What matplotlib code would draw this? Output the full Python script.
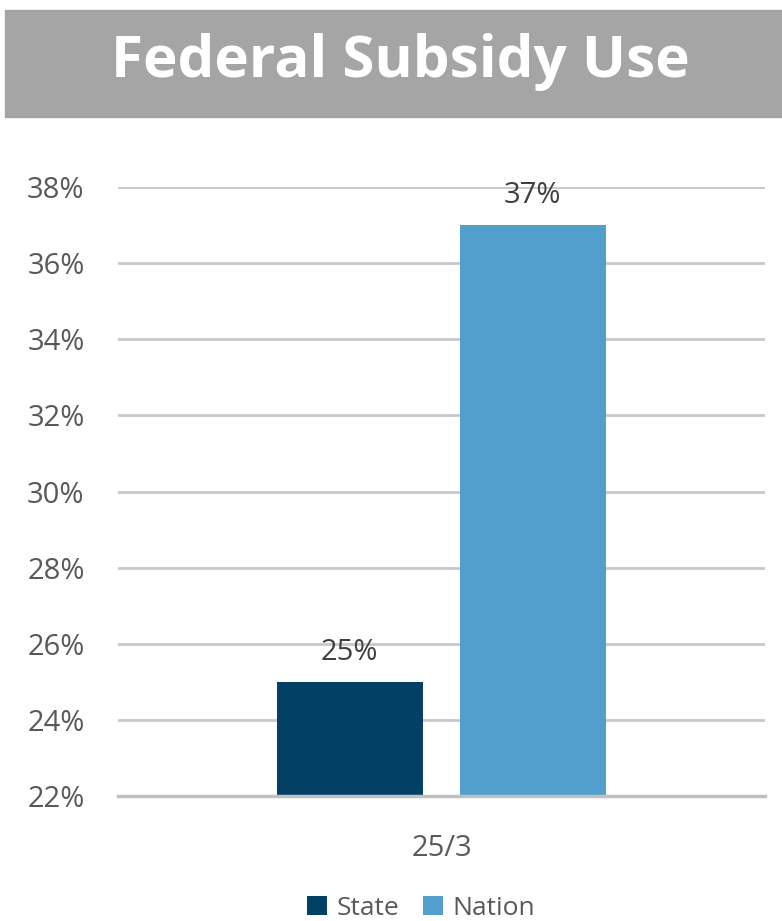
import matplotlib.pyplot as plt
from matplotlib.patches import Rectangle
from matplotlib.ticker import FuncFormatter

# data
category = ["25/3"]
series = ["State", "Nation"]
values = [25, 37]
colors = ["#024066", "#529fcd"]
yticks = [22, 24, 26, 28, 30, 32, 34, 36, 38]

plt.rcParams['font.family'] = ['Open Sans', 'DejaVu Sans']
txt = "#595959"

fig = plt.figure(figsize=(7.82, 9.21), dpi=100)

# title banner
fig.patches.append(Rectangle((5 / 782, 1 - 117 / 921), 777 / 782, 107 / 921,
                             transform=fig.transFigure, color="#a5a5a5", zorder=0))
fig.text(400 / 782, 1 - 62 / 921, "Federal Subsidy Use", ha="center", va="center",
         color="white", fontsize=42, fontweight="bold")

ax = fig.add_axes([118 / 782, 1 - 796 / 921, 647 / 782, 609 / 921])
offsets = [-0.142, 0.141]
width = 0.226
for i in range(len(series)):
    ax.bar(offsets[i], values[i] - yticks[0], width, bottom=yticks[0], color=colors[i],
           label=series[i], zorder=3)
    ax.text(offsets[i], values[i] + 0.4, f"{values[i]}%", ha="center", va="bottom",
            fontsize=21, color="#404040")

ax.set_xlim(-0.5, 0.5)
ax.set_ylim(yticks[0], yticks[-1])
ax.set_yticks(yticks)
ax.yaxis.set_major_formatter(FuncFormatter(lambda v, p: f"{v:.0f}%"))
ax.set_xticks([0])
ax.set_xticklabels(category)
ax.tick_params(axis="both", length=0, labelsize=21, labelcolor=txt)
ax.tick_params(axis="y", pad=24)
ax.tick_params(axis="x", pad=27)
ax.grid(axis="y", color="#c8c8c8", linewidth=2, zorder=0)
for s in ["top", "right", "left"]:
    ax.spines[s].set_visible(False)
ax.spines["bottom"].set_color("#c0c0c0")
ax.spines["bottom"].set_linewidth(2.5)
ax.spines["bottom"].set_zorder(4)

fig.legend(loc="center", bbox_to_anchor=(421 / 782, 1 - 908 / 921), ncol=2, frameon=False,
           fontsize=19, handlelength=0.75, handleheight=0.75, handletextpad=0.35,
           columnspacing=0.9, labelcolor=txt)

fig.savefig("out.png", dpi=100)
